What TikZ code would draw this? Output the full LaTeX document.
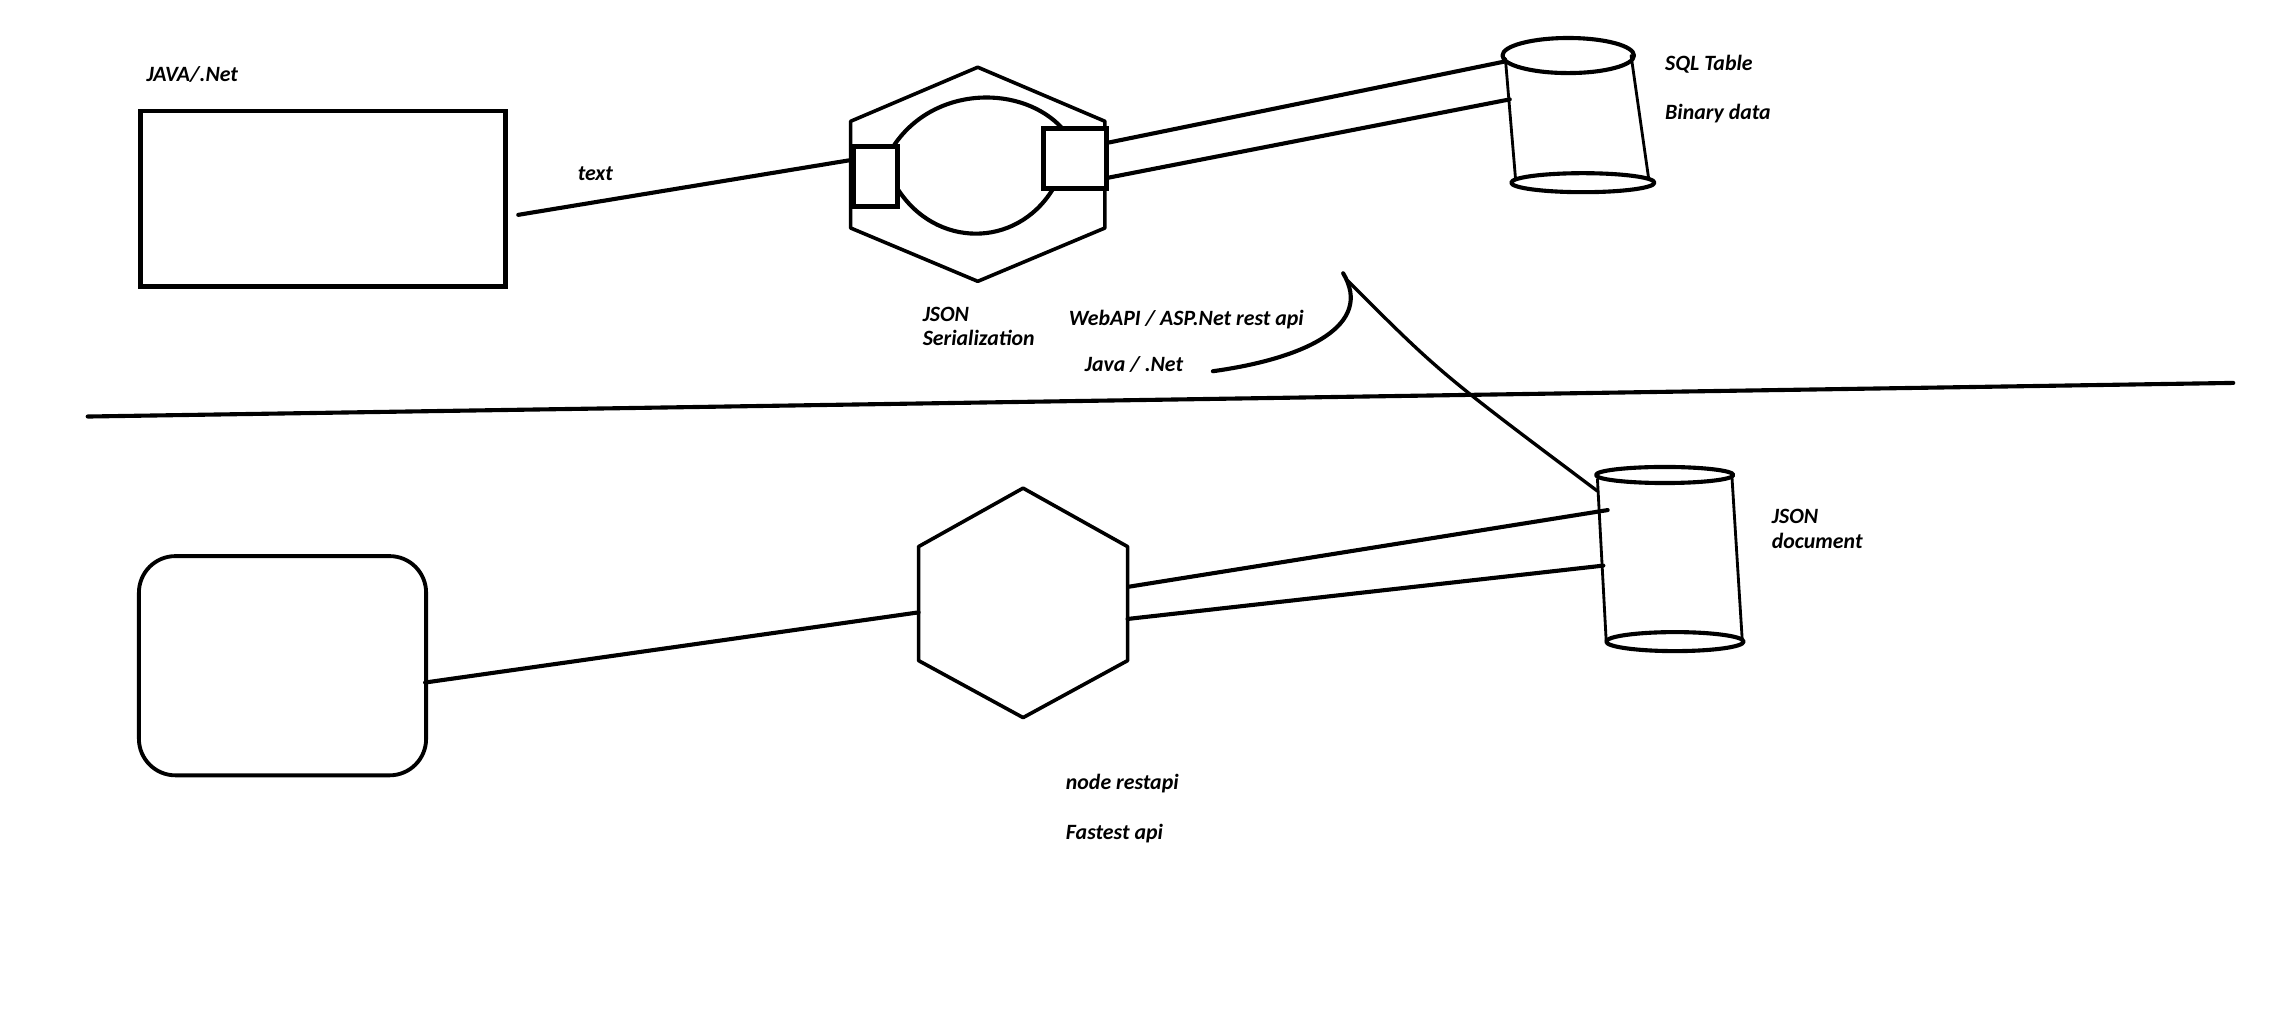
\documentclass[tikz,border=0pt]{standalone}
\usepackage{fontspec}
\setmainfont{Carlito}
\usetikzlibrary{positioning}

\tikzset{
    stroke/.style={line width=1.6pt, line join=round, line cap=round},
    thinstroke/.style={line width=1.1pt, line cap=round},
    plainbox/.style={draw, line width=1.8pt, inner sep=0pt},
    portbox/.style={draw, line width=2pt, inner sep=0pt, fill=white},
    lbl/.style={font=\bfseries\itshape\fontsize{8.5}{10}\selectfont, anchor=base west, inner sep=0pt},
}

\begin{document}
\begin{tikzpicture}[x=0.2mm, y=-0.2mm]
    \useasboundingbox (0,0) rectangle (1560,700);

    %upper part: JAVA/.Net box
    \node (javabox) [plainbox, minimum width=50mm, minimum height=24mm] at (221,136) {};
    \node (javalbl) [lbl] at (100,56) {JAVA/.Net};
    \node (textlbl) [lbl] at (395,123.5) {text};

    %JSON serialization hexagon with the two ports
    \draw[stroke, line width=1.4pt] (669,46) -- (756,83) -- (756,156) -- (669,192.5) -- (582,156) -- (582,83) -- cycle;
    \draw[stroke] (612,99) .. controls (640,58) and (700,58) .. (727,88);
    \draw[stroke] (614,129) .. controls (640,170) and (695,170) .. (720,130);
    \node (leftport) [portbox, minimum width=6mm, minimum height=8.2mm] at (599,120.5) {};
    \node (rightport) [portbox, minimum width=8.6mm, minimum height=8.2mm] at (735.5,108.5) {};
    \node (jsonlbl) [lbl] at (631,220) {JSON};
    \node (serlbl) [lbl, below=3.3mm of jsonlbl.base west, anchor=base west] {Serialization};
    \draw[stroke] ([shift={(7,11)}]javabox.east) -- ([shift={(0,-11)}]leftport.west);

    %SQL table cylinder
    \coordinate (sqltop) at (1073,38);
    \coordinate (sqlbot) at (1083,125);
    \draw[stroke] (sqltop) ellipse [x radius=9mm, y radius=2.4mm];
    \draw[stroke] (sqlbot) ellipse [x radius=9.8mm, y radius=1.3mm];
    \draw[thinstroke] (1030,40) -- (1037,123);
    \draw[thinstroke] (1116,38) -- (1128,122);
    \coordinate (sqlin1) at (1030,42);
    \coordinate (sqlin2) at (1033,68);
    \draw[stroke] ([shift={(0,-11)}]rightport.east) -- (sqlin1);
    \draw[stroke] ([shift={(0,13)}]rightport.east) -- (sqlin2);
    \node (sqllbl) [lbl] at (1139,48) {SQL Table};
    \node (binlbl) [lbl, below=6.8mm of sqllbl.base west, anchor=base west] {Binary data};

    %WebAPI note and the stroke down to the JSON document
    \node (webapilbl) [lbl] at (731,222.5) {WebAPI / ASP.Net rest api};
    \node (javanetlbl) [lbl] at (742,254) {Java / .Net};
    \coordinate (hook) at (919,187);
    \draw[stroke] ([xshift=4mm]javanetlbl.base east) .. controls (895,245) and (940,222) .. (hook);
    \coordinate (jsonin0) at (1093,336);
    \draw[thinstroke, line width=1.3pt] (922,192) .. controls (985,255) .. (jsonin0);

    %divider
    \coordinate (divL) at (60,285);
    \coordinate (divR) at (1528,262);
    \draw[stroke] (divL) -- (divR);

    %lower part: rounded box -> node restapi hexagon -> JSON document
    \node (nodebox) [plainbox, rounded corners=5mm, line width=1.5pt, minimum width=39.3mm, minimum height=30mm] at (193.3,455.5) {};
    \draw[stroke, line width=1.4pt] (700,334) -- (771.5,374) -- (771.5,452) -- (700,491) -- (628.5,452) -- (628.5,374) -- cycle;
    \coordinate (hexw) at (628.5,419);
    \draw[stroke] ([shift={(-2,11.5)}]nodebox.east) -- (hexw);
    \node (restlbl) [lbl] at (729,540.5) {node restapi};
    \node (fastlbl) [lbl, below=6.8mm of restlbl.base west, anchor=base west] {Fastest api};

    %JSON document cylinder
    \coordinate (doctop) at (1139,325);
    \coordinate (docbot) at (1146,439);
    \draw[stroke] (doctop) ellipse [x radius=9.4mm, y radius=1.1mm];
    \draw[stroke] (docbot) ellipse [x radius=9.4mm, y radius=1.3mm];
    \draw[thinstroke] (1093,328) -- (1099,439);
    \draw[thinstroke] (1185,326) -- (1192,437);
    \coordinate (docin1) at (1100,349);
    \coordinate (docin2) at (1097,387);
    \draw[stroke] (772,401.5) -- (docin1);
    \draw[stroke] (771.5,423.5) -- (docin2);
    \node (doclbl) [lbl] at (1212,358.5) {JSON};
    \node (doc2lbl) [lbl, below=3.3mm of doclbl.base west, anchor=base west] {document};
\end{tikzpicture}
\end{document}
